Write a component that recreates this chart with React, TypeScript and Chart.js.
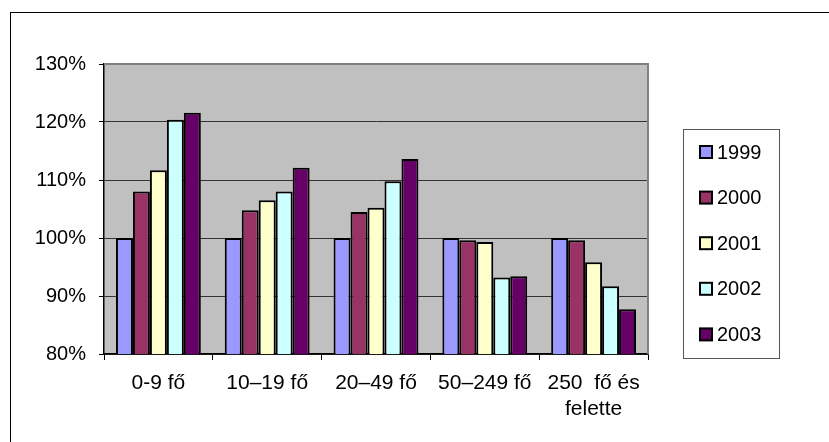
import React, { useEffect, useRef } from "react";
import { Chart, registerables } from "chart.js";

Chart.register(...registerables);

const categories: (string | string[])[] = [
  "0-9 fő",
  "10–19 fő",
  "20–49 fő",
  "50–249 fő",
  ["250  fő és", "felette"],
];
const years = ["1999", "2000", "2001", "2002", "2003"];
const s1999 = [100, 100, 100, 100, 100];
const s2000 = [108.0, 104.8, 104.5, 99.6, 99.6];
const s2001 = [111.7, 106.5, 105.2, 99.3, 95.8];
const s2002 = [120.4, 108.0, 109.8, 93.2, 91.7];
const s2003 = [121.6, 112.1, 113.6, 93.4, 87.7];
const seriesValues = [s1999, s2000, s2001, s2002, s2003];
const colors = ["#9999FF", "#993366", "#FFFFCC", "#CCFFFF", "#660066"];
const yMin = 80;
const yMax = 130;
const yStep = 10;

const FONT = "'Liberation Sans', Arial, sans-serif";

export default function App() {
  const ref = useRef<HTMLCanvasElement | null>(null);

  useEffect(() => {
    if (!ref.current) return;
    const bgPlugin = {
      id: "plotBg",
      beforeDraw(chart: any) {
        const { ctx, chartArea } = chart;
        ctx.save();
        ctx.fillStyle = "#C0C0C0";
        ctx.fillRect(chartArea.left, chartArea.top, chartArea.right - chartArea.left, chartArea.bottom - chartArea.top);
        ctx.restore();
      },
      beforeDatasetsDraw(chart: any) {
        const { ctx, chartArea } = chart;
        ctx.save();
        ctx.strokeStyle = "#808080";
        ctx.lineWidth = 2;
        ctx.beginPath();
        ctx.moveTo(chartArea.left, chartArea.top);
        ctx.lineTo(chartArea.right, chartArea.top);
        ctx.lineTo(chartArea.right, chartArea.bottom);
        ctx.stroke();
        ctx.restore();
      },
    };
    const legendPlugin = {
      id: "boxLegend",
      afterDraw(chart: any) {
        const { ctx } = chart;
        ctx.save();
        ctx.strokeStyle = "#555";
        ctx.lineWidth = 1;
        ctx.strokeRect(683.5, 129.5, 96, 229);
        ctx.font = `20px ${FONT}`;
        ctx.textBaseline = "middle";
        ctx.textAlign = "left";
        chart.data.datasets.forEach((ds: any, i: number) => {
          const cy = 152 + i * 45.6;
          ctx.fillStyle = ds.backgroundColor;
          ctx.fillRect(700, cy - 6, 12, 12);
          ctx.strokeStyle = "#000";
          ctx.lineWidth = 2;
          ctx.strokeRect(700, cy - 6, 12, 12);
          ctx.fillStyle = "#000";
          ctx.fillText(ds.label, 717, cy + 1);
        });
        ctx.restore();
      },
    };
    const chart = new Chart(ref.current, {
      type: "bar",
      data: {
        labels: categories,
        datasets: years.map((y, i) => ({
          label: y,
          data: seriesValues[i],
          backgroundColor: colors[i],
          borderColor: "#000",
          borderWidth: 2,
          borderSkipped: false,
          categoryPercentage: 0.78,
          barPercentage: 1.0,
        })),
      },
      options: {
        responsive: false,
        animation: false,
        devicePixelRatio: 1,
        layout: { padding: { left: 0, top: 64, right: 181, bottom: 0 } },
        plugins: {
          legend: { display: false },
          tooltip: { enabled: false },
          title: { display: false },
        },
        scales: {
          x: {
            grid: {
              offset: true,
              drawOnChartArea: false,
              drawTicks: true,
              tickLength: 6,
              tickColor: "#000",
              tickWidth: 1,
            },
            border: { color: "#000", width: 1.5 },
            ticks: {
              color: "#000",
              font: { family: FONT, size: 21, lineHeight: "26px" } as any,
              padding: 10,
              autoSkip: false,
              maxRotation: 0,
              minRotation: 0,
            },
            afterFit(scale: any) {
              scale.height = 88;
            },
          },
          y: {
            min: yMin,
            max: yMax,
            grid: {
              color: (c: any) => (c.tick && c.tick.value === yMax ? "#808080" : "#333"),
              tickColor: "#000",
              tickLength: 5,
              lineWidth: 1,
            },
            border: { color: "#000", width: 1.5 },
            ticks: {
              stepSize: yStep,
              color: "#000",
              font: { family: FONT, size: 20 },
              padding: 13,
              callback: (v: any) => `${v}%`,
            },
            afterFit(scale: any) {
              scale.width = 104;
            },
          },
        },
      },
      plugins: [bgPlugin, legendPlugin],
    });
    return () => chart.destroy();
  }, []);

  return (
    <div style={{ position: "fixed", left: 0, top: 0, width: 829, height: 442, background: "#fff", overflow: "hidden" }}>
      <div
        style={{
          position: "absolute",
          left: 10,
          top: 12,
          width: 900,
          height: 500,
          borderLeft: "1px solid #000",
          borderTop: "1px solid #000",
        }}
      />
      <canvas ref={ref} width={829} height={442} style={{ position: "absolute", left: 0, top: 0, width: 829, height: 442 }} />
    </div>
  );
}
